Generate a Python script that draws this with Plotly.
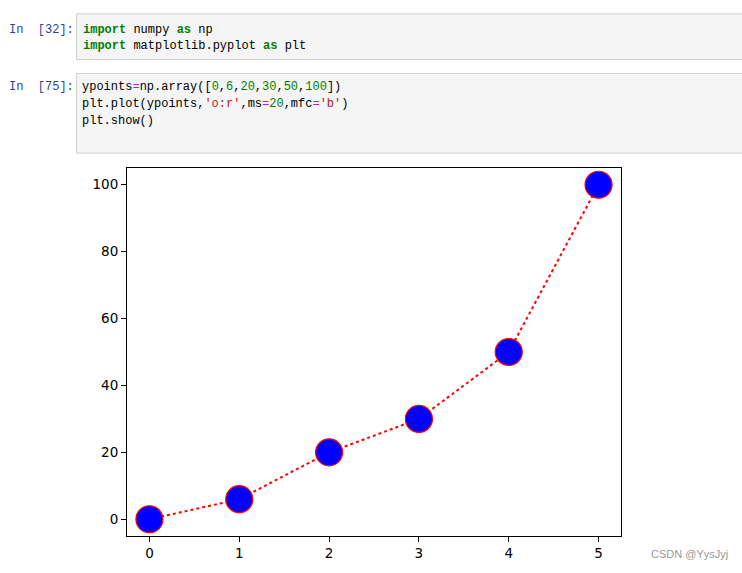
import plotly.graph_objects as go

# data
x_values = [0, 1, 2, 3, 4, 5]
y_values = [0, 6, 20, 30, 50, 100]
x_ticks = [0, 1, 2, 3, 4, 5]
y_ticks = [0, 20, 40, 60, 80, 100]

W, H = 742, 573
L, R, T, B = 126.5, 621.5, 168, 538  # plot area in pixels

def px(x):
    return (x - L) / (R - L)

def py(y):
    return (B - y) / (B - T)

fig = go.Figure()
fig.add_trace(go.Scatter(
    x=x_values, y=y_values, mode="lines+markers",
    line=dict(color="red", width=2, dash="dot"),
    marker=dict(size=27, color="blue", line=dict(color="red", width=1.2)),
    cliponaxis=False, showlegend=False, hoverinfo="skip",
))

mono = "Liberation Mono, DejaVu Sans Mono, monospace"
KW = "<b><span style='color:#008000'>%s</span></b>"
NUM = "<span style='color:#008000'>%s</span>"
OP = "<span style='color:#AA22FF'>%s</span>"
STR = "<span style='color:#BA2121'>%s</span>"

shapes = []
annotations = []

# code cells
for (y0, y1) in [(13, 59), (73, 153)]:
    shapes.append(dict(type="rect", xref="paper", yref="paper",
                       x0=px(76), x1=px(760), y0=py(y1), y1=py(y0),
                       fillcolor="#f5f5f5", line=dict(color="#cfcfcf", width=1),
                       layer="below"))

def add_text(x, y, text, color="#000", size=12, font=mono):
    annotations.append(dict(xref="paper", yref="paper", x=px(x), y=py(y),
                            xanchor="left", yanchor="middle", showarrow=False,
                            text=text, font=dict(family=font, size=size, color=color)))

add_text(6, 29, "In  [32]:", color="#303F9F")
add_text(6, 87, "In  [75]:", color="#303F9F")

add_text(80, 29, KW % "import" + " numpy " + KW % "as" + " np")
add_text(80, 45, KW % "import" + " matplotlib.pyplot " + KW % "as" + " plt")
add_text(79, 87, "ypoints" + OP % "=" + "np.array([" + NUM % "0" + "," + NUM % "6" + "," +
         NUM % "20" + "," + NUM % "30" + "," + NUM % "50" + "," + NUM % "100" + "])")
add_text(79, 104, "plt.plot(ypoints," + STR % "'o:r'" + ",ms" + OP % "=" + NUM % "20" +
         ",mfc" + OP % "=" + STR % "'b'" + ")")
add_text(79, 121, "plt.show()")

add_text(650, 556, "CSDN @YysJyj", color="#999999", size=11,
         font="Arial, Liberation Sans, sans-serif")

fig.update_layout(
    width=W, height=H,
    margin=dict(l=L, r=W - R, t=T, b=H - B, pad=0),
    paper_bgcolor="white", plot_bgcolor="white",
    font=dict(family="DejaVu Sans", size=13.5, color="black"),
    shapes=shapes, annotations=annotations,
    xaxis=dict(range=[-0.25, 5.25], tickvals=x_ticks, showgrid=False, zeroline=False,
               showline=True, linecolor="black", linewidth=1, mirror=True,
               ticks="outside", ticklen=5, tickcolor="black"),
    yaxis=dict(range=[-5, 105], tickvals=y_ticks, showgrid=False, zeroline=False,
               showline=True, linecolor="black", linewidth=1, mirror=True,
               ticks="outside", ticklen=5, tickcolor="black"),
)

fig.write_html("out.html", config={"displayModeBar": False},
               post_script="document.body.style.margin='0';")
